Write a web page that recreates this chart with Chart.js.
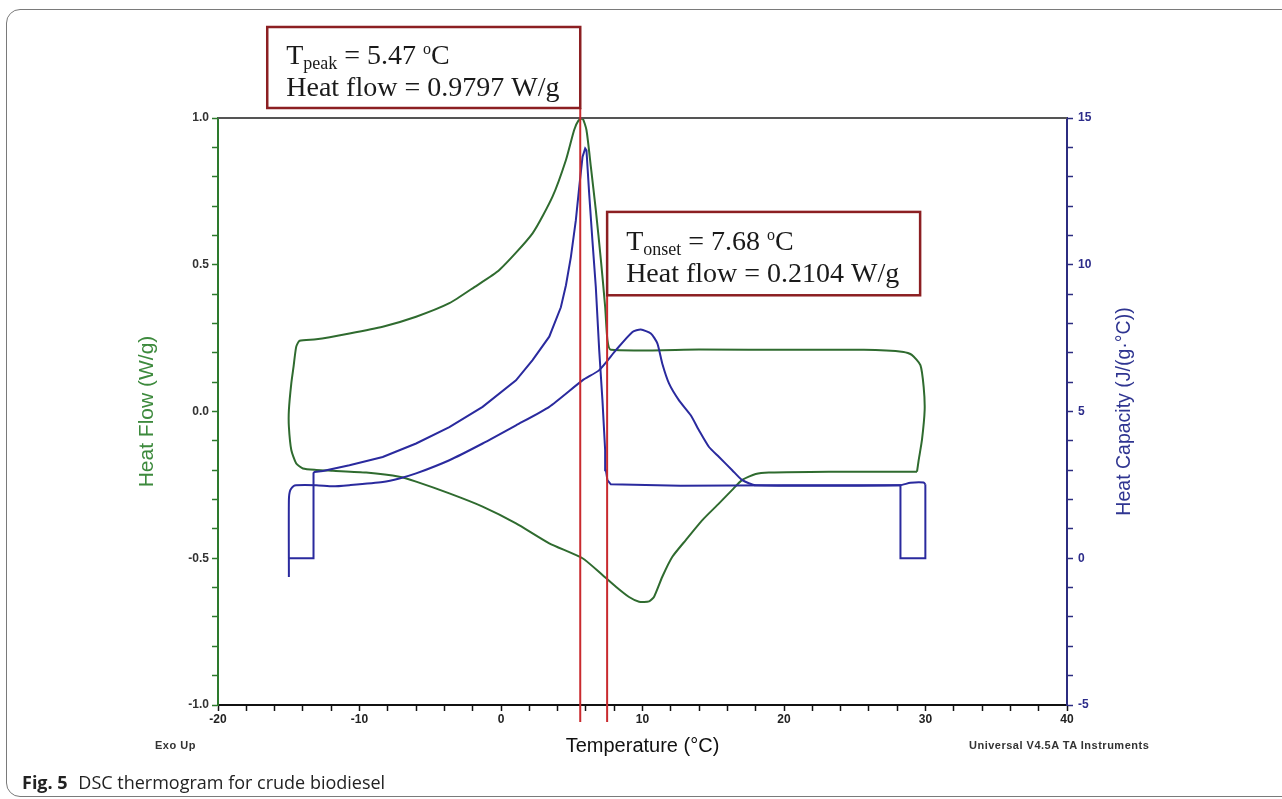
<!DOCTYPE html>
<html>
<head>
<meta charset="utf-8">
<script src="https://cdn.jsdelivr.net/npm/chart.js@4.4.1/dist/chart.umd.min.js"></script>
<style>
  html, body { margin: 0; padding: 0; background: #fff; }
  #wrap { position: relative; width: 1282px; height: 799px; overflow: hidden; }
  #frame { position: absolute; left: 6px; top: 9px; width: 1330px; height: 788px;
           border: 1.5px solid #7a7a7a; border-radius: 14px; box-sizing: border-box; }
  #dsc { position: absolute; left: 0; top: 0; }
  .note { position: absolute; font-family: "Liberation Sans", Arial, sans-serif; font-size: 11px;
          font-weight: bold; color: #333; white-space: nowrap; letter-spacing: 0.5px; }
  #caption { position: absolute; left: 22px; top: 770px; font-family: "Open Sans", sans-serif;
             font-size: 18px; color: #222; white-space: nowrap; }
  #caption b { font-weight: bold; margin-right: 6px; }
</style>
</head>
<body>
<div id="wrap">
  <div id="frame"></div>
  <canvas id="dsc" width="1282" height="799"></canvas>
  <div class="note" style="left:155px; top:739px;">Exo Up</div>
  <div class="note" style="left:969px; top:739px;">Universal V4.5A TA Instruments</div>
  <div id="caption"><b>Fig. 5</b> DSC thermogram for crude biodiesel</div>
</div>
<script>
// Heat flow (green), one loop: cooling from 30 °C down to -15 °C, then heating back
const hfTemp = [29.40, 29.52, 29.75, 29.94, 29.87, 29.64, 29.03, 28.46, 25.64, 21.05, 13.99, 7.76,
  7.52, 7.36, 7.06, 6.70, 6.35, 6.04, 5.76, 5.46, 5.17, 4.59, 3.64, 2.23, -0.12, -1.88, -3.65,
  -6.00, -8.36, -10.71, -13.06, -14.23, -14.47, -14.66, -14.82, -14.99, -14.99, -14.82, -14.47,
  -14.00, -13.06, -11.88, -9.53, -7.18, -6.00, -3.65, -1.30, 1.06, 3.41, 5.76, 7.17, 8.12, 9.05,
  9.76, 10.47, 10.82, 11.40, 12.11, 13.06, 14.23, 15.41, 16.34, 17.05, 18.00, 18.93, 23.17, 29.40];
const hfValue = [-0.205, -0.165, -0.097, 0.005, 0.084, 0.158, 0.193, 0.203, 0.210, 0.210, 0.211, 0.210,
  0.244, 0.357, 0.516, 0.687, 0.834, 0.959, 0.999, 0.990, 0.959, 0.857, 0.732, 0.607, 0.482, 0.424, 0.369,
  0.323, 0.289, 0.266, 0.246, 0.241, 0.221, 0.153, 0.096, 0.005, -0.052, -0.131, -0.177,
  -0.194, -0.199, -0.202, -0.208, -0.222, -0.239, -0.279, -0.324, -0.381, -0.449, -0.500, -0.557, -0.597, -0.632,
  -0.648, -0.647, -0.631, -0.563, -0.495, -0.438, -0.370, -0.313, -0.267, -0.233, -0.213, -0.208, -0.205, -0.205];

// Heat capacity (blue), cooling run
const cpCoolTemp = [29.99, 29.99, 28.23, 28.23, 20.00, 12.70, 7.76, 7.52, 7.41, 7.36, 7.17, 6.94, 6.70,
  6.46, 6.23, 6.04, 5.95, 5.76, 5.53, 5.29, 4.94, 4.59, 4.23, 3.41, 2.23, 1.06, -1.30, -3.65, -6.00,
  -8.36, -10.71, -12.59, -13.18, -13.25, -13.25, -14.99];
const cpCoolValue = [2.52, 0.00, 0.00, 2.49, 2.49, 2.47, 2.52, 2.66, 3.00, 3.68, 5.38, 7.09, 9.24,
  10.83, 12.43, 13.90, 13.96, 13.67, 12.65, 11.52, 10.27, 9.30, 8.55, 7.55, 6.75, 6.06, 5.16, 4.47, 3.91,
  3.45, 3.17, 2.97, 2.94, 2.90, 0.00, 0.00];

// Heat capacity (blue), heating run
const cpHeatTemp = [-14.99, -14.99, -14.89, -14.59, -13.06, -11.88, -10.71, -8.36, -7.18, -6.00, -3.65,
  -1.30, 1.06, 3.41, 5.76, 6.94, 8.12, 9.29, 9.88, 10.59, 11.05, 11.40, 11.88, 12.58, 13.41, 13.99,
  14.70, 15.41, 16.34, 17.05, 18.00, 28.20, 28.93, 29.87, 29.99];
const cpHeatValue = [-0.64, 1.98, 2.32, 2.48, 2.49, 2.45, 2.49, 2.60, 2.72, 2.89, 3.34,
  3.91, 4.53, 5.16, 6.06, 6.41, 7.09, 7.71, 7.79, 7.66, 7.32, 6.63, 5.95, 5.38, 4.87, 4.36,
  3.79, 3.45, 3.00, 2.66, 2.49, 2.49, 2.57, 2.58, 2.52];

// tick labels
const tempLabels = [-20, -10, 0, 10, 20, 30, 40];
const hfLabels = [-1.0, -0.5, 0.0, 0.5, 1.0];
const cpLabels = [-5, 0, 5, 10, 15];

// marker lines and their boxes
const markerTemps = [5.6, 7.5];
const peakText = ['peak', '5.47', '0.9797'];
const onsetText = ['onset', '7.68', '0.2104'];

const GREEN = '#2f6b2f';
const BLUE = '#2a2a9e';
const SANS = '"Liberation Sans", Arial, sans-serif';
const SERIF = '"Liberation Serif", "Times New Roman", serif';

function pts(xs, ys) {
    return xs.map(function (x, i) { return { x: x, y: ys[i] }; });
}
function isLabel(list, v) {
    return list.some(function (l) { return Math.abs(l - v) < 1e-6; });
}

// draws "T<sub>..</sub> = v oC" and "Heat flow = .. W/g" on the canvas
function boxText(ctx, x, y, t) {
    const parts = [
        { s: 'T', f: 28, dy: 0 },
        { s: t[0], f: 18, dy: 5 },
        { s: ' = ' + t[1] + ' ', f: 28, dy: 0 },
        { s: 'o', f: 16, dy: -10 },
        { s: 'C', f: 28, dy: 0 }
    ];
    let cx = x;
    parts.forEach(function (p) {
        ctx.font = p.f + 'px ' + SERIF;
        ctx.fillText(p.s, cx, y + p.dy);
        cx += ctx.measureText(p.s).width;
    });
    ctx.font = '28px ' + SERIF;
    ctx.fillText('Heat flow = ' + t[2] + ' W/g', x, y + 32);
}

const annotate = {
    id: 'annotate',
    afterDatasetsDraw(chart) {
        const ctx = chart.ctx, a = chart.chartArea, sx = chart.scales.x, sy = chart.scales.y;
        ctx.save();
        // top edge of the plot
        ctx.strokeStyle = '#555';
        ctx.lineWidth = 2;
        ctx.beginPath();
        ctx.moveTo(a.left, a.top);
        ctx.lineTo(a.right, a.top);
        ctx.stroke();

        const xp = markerTemps.map(function (t) { return sx.getPixelForValue(t); });
        const b1 = { l: xp[0] - 313, r: xp[0], t: a.top - 91, b: a.top - 10 };
        const b2 = { l: xp[1], r: xp[1] + 313, t: sy.getPixelForValue(0.68), b: sy.getPixelForValue(0.396) };

        ctx.strokeStyle = '#c92a2e';
        ctx.lineWidth = 2;
        [[xp[0], b1.b], [xp[1], b2.b]].forEach(function (m) {
            ctx.beginPath();
            ctx.moveTo(m[0], m[1]);
            ctx.lineTo(m[0], a.bottom + 17);
            ctx.stroke();
        });

        ctx.strokeStyle = '#8c1f22';
        ctx.lineWidth = 2.5;
        [b1, b2].forEach(function (b) {
            ctx.fillStyle = '#fff';
            ctx.fillRect(b.l, b.t, b.r - b.l, b.b - b.t);
            ctx.strokeRect(b.l, b.t, b.r - b.l, b.b - b.t);
        });

        ctx.fillStyle = '#1a1a1a';
        ctx.textBaseline = 'alphabetic';
        boxText(ctx, b1.l + 19, b1.t + 37, peakText);
        boxText(ctx, b2.l + 19, b2.t + 38, onsetText);

        // right axis title, reading upwards like the left one
        ctx.translate(1125, (a.top + a.bottom) / 2);
        ctx.rotate(-Math.PI / 2);
        ctx.font = '19.5px ' + SANS;
        ctx.fillStyle = '#2f3591';
        ctx.textAlign = 'center';
        ctx.textBaseline = 'middle';
        ctx.fillText('Heat Capacity (J/(g\u00b7\u00b0C))', 0, 0);
        ctx.restore();
    }
};

document.addEventListener('DOMContentLoaded', function () {
    const ctx = document.getElementById('dsc').getContext('2d');
    new Chart(ctx, {
        type: 'scatter',
        data: {
            datasets: [
                { label: 'Heat capacity (cooling)', data: pts(cpCoolTemp, cpCoolValue), yAxisID: 'y1',
                  borderColor: BLUE, borderWidth: 2, showLine: true, pointRadius: 0, tension: 0 },
                { label: 'Heat capacity (heating)', data: pts(cpHeatTemp, cpHeatValue), yAxisID: 'y1',
                  borderColor: BLUE, borderWidth: 2, showLine: true, pointRadius: 0, tension: 0.2 },
                { label: 'Heat flow', data: pts(hfTemp, hfValue), yAxisID: 'y',
                  borderColor: GREEN, borderWidth: 2, showLine: true, pointRadius: 0, tension: 0.2 }
            ]
        },
        options: {
            responsive: false,
            animation: false,
            layout: { padding: { left: 135, top: 118, right: 0, bottom: 0 } },
            plugins: { legend: { display: false }, tooltip: { enabled: false } },
            scales: {
                x: {
                    type: 'linear', min: -20, max: 40,
                    afterFit: function (s) { s.height = 94; },
                    ticks: {
                        stepSize: 2, autoSkip: false, maxRotation: 0, padding: 1,
                        color: '#222', font: { family: SANS, size: 12, weight: 'bold' },
                        callback: function (v) { return isLabel(tempLabels, v) ? String(Math.round(v)) : ''; }
                    },
                    grid: { drawOnChartArea: false, tickLength: 6, color: '#111', tickWidth: 1.5 },
                    border: { color: '#111', width: 2 },
                    title: { display: true, text: 'Temperature (\u00b0C)', color: '#111',
                             font: { family: SANS, size: 20 }, padding: { top: 0, bottom: 41 } }
                },
                y: {
                    position: 'left', min: -1, max: 1,
                    afterFit: function (s) { s.width = 83; },
                    ticks: {
                        stepSize: 0.1, autoSkip: false, padding: 3,
                        color: '#333', font: { family: SANS, size: 12, weight: 'bold' },
                        callback: function (v) {
                            const r = Math.round(v * 10) / 10 + 0;
                            return isLabel(hfLabels, r) ? r.toFixed(1) : '';
                        }
                    },
                    grid: { drawOnChartArea: false, tickLength: 6, color: '#2d7a2d', tickWidth: 1.5 },
                    border: { color: '#2d7a2d', width: 2 },
                    title: { display: true, text: 'Heat Flow (W/g)', color: '#3d8a3d',
                             font: { family: SANS, size: 21 }, padding: { top: 0, bottom: 0 } }
                },
                y1: {
                    position: 'right', min: -5, max: 15,
                    afterFit: function (s) { s.width = 215; },
                    ticks: {
                        stepSize: 1, autoSkip: false, padding: 5,
                        color: '#2c2c8a', font: { family: SANS, size: 12, weight: 'bold' },
                        callback: function (v) { return isLabel(cpLabels, v) ? String(Math.round(v)) : ''; }
                    },
                    grid: { drawOnChartArea: false, tickLength: 6, color: '#2c2c80', tickWidth: 1.5 },
                    border: { color: '#2c2c80', width: 2 }
                }
            }
        },
        plugins: [annotate]
    });
});
</script>
</body>
</html>
